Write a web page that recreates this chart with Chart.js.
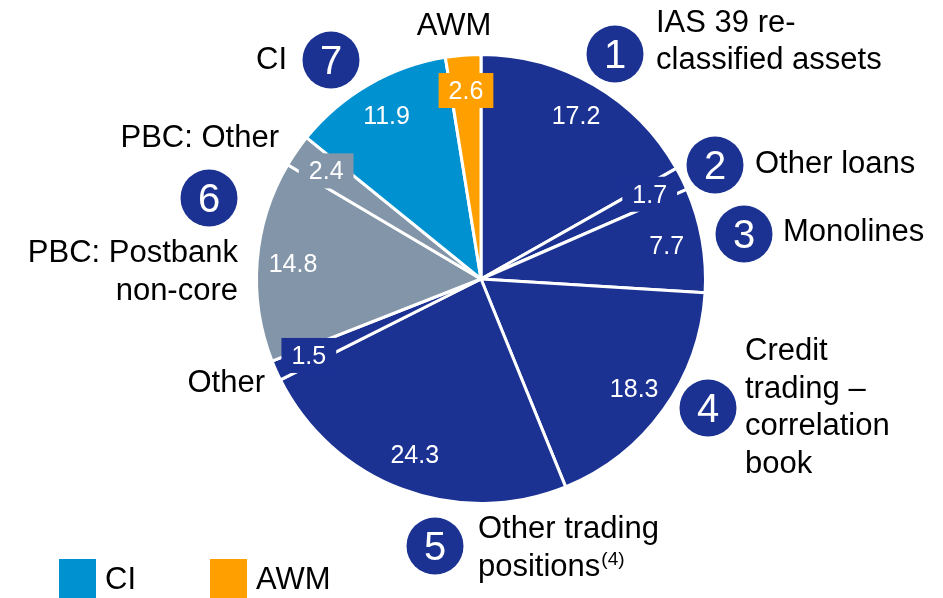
<!DOCTYPE html>
<html>
<head>
<meta charset="utf-8">
<script src="https://cdn.jsdelivr.net/npm/chart.js@4"></script>
<style>
  html, body { margin: 0; padding: 0; background: #fff; }
  canvas { display: block; }
</style>
</head>
<body>
<canvas id="pieChart" width="943" height="598"></canvas>
<script>
// Data
const categories = [
  'IAS 39 re-classified assets', 'Other loans', 'Monolines',
  'Credit trading – correlation book', 'Other trading positions',
  'Other', 'PBC: Postbank non-core', 'PBC: Other', 'CI', 'AWM'
];
const values = [17.2, 1.7, 7.7, 18.3, 24.3, 1.5, 14.8, 2.4, 11.9, 2.6];
const valueLabels = ['17.2', '1.7', '7.7', '18.3', '24.3', '1.5', '14.8', '2.4', '11.9', '2.6'];
const legendLabels = ['CI', 'AWM'];

const NAVY = '#1b3293';
const BLUE = '#0091d0';
const ORANGE = '#ffa000';
const GREY = '#8396a9';
const sliceColors = [NAVY, NAVY, NAVY, NAVY, NAVY, NAVY, GREY, GREY, BLUE, ORANGE];
const FONT = '"Liberation Sans", Arial, sans-serif';

// Callout layout (numbered circles + text), x/y in px
const circles = [
  { n: '1', x: 615, y: 54 },
  { n: '2', x: 715, y: 165 },
  { n: '3', x: 744, y: 234 },
  { n: '4', x: 708, y: 408 },
  { n: '5', x: 435, y: 546 },
  { n: '6', x: 209, y: 198 },
  { n: '7', x: 331, y: 60 }
];
const texts = [
  { t: 'IAS 39 re-', x: 656, y: 32, a: 'left' },
  { t: 'classified assets', x: 656, y: 69, a: 'left' },
  { t: 'Other loans', x: 755, y: 173, a: 'left' },
  { t: 'Monolines', x: 783, y: 241, a: 'left' },
  { t: 'Credit', x: 745, y: 360, a: 'left' },
  { t: 'trading –', x: 745, y: 398, a: 'left' },
  { t: 'correlation', x: 745, y: 435, a: 'left' },
  { t: 'book', x: 745, y: 473, a: 'left' },
  { t: 'Other trading', x: 478, y: 538, a: 'left' },
  { t: 'positions', x: 478, y: 576, a: 'left', sup: '(4)' },
  { t: 'PBC: Other', x: 279, y: 147, a: 'right' },
  { t: 'PBC: Postbank', x: 238, y: 262, a: 'right' },
  { t: 'non-core', x: 238, y: 300, a: 'right' },
  { t: 'Other', x: 265, y: 392, a: 'right' },
  { t: 'CI', x: 287, y: 69, a: 'right' },
  { t: 'AWM', x: 454, y: 35, a: 'center' }
];

// Value labels on slices; small slices get a box in the slice colour
const valueLabelPlugin = {
  id: 'valueLabels',
  afterDatasetsDraw(chart) {
    const ctx = chart.ctx;
    const meta = chart.getDatasetMeta(0);
    ctx.save();
    ctx.font = '25px ' + FONT;
    ctx.textAlign = 'center';
    ctx.textBaseline = 'middle';
    meta.data.forEach((arc, i) => {
      const mid = (arc.startAngle + arc.endAngle) / 2;
      const r = arc.outerRadius * 0.84;
      const x = arc.x + Math.cos(mid) * r;
      const y = arc.y + Math.sin(mid) * r;
      if (values[i] < 3) {
        const w = ctx.measureText(valueLabels[i]).width + 20;
        ctx.fillStyle = sliceColors[i];
        ctx.fillRect(x - w / 2, y - 18, w, 35);
      }
      ctx.fillStyle = '#fff';
      ctx.fillText(valueLabels[i], x, y + 1);
    });
    ctx.restore();
  }
};

// Callouts and legend
const calloutPlugin = {
  id: 'callouts',
  afterDraw(chart) {
    const ctx = chart.ctx;
    ctx.save();
    circles.forEach(c => {
      ctx.beginPath();
      ctx.arc(c.x, c.y, 28.5, 0, Math.PI * 2);
      ctx.fillStyle = NAVY;
      ctx.fill();
      ctx.fillStyle = '#fff';
      ctx.font = '40px ' + FONT;
      ctx.textAlign = 'center';
      ctx.textBaseline = 'alphabetic';
      ctx.fillText(c.n, c.x, c.y + 14);
    });
    ctx.fillStyle = '#000';
    ctx.textBaseline = 'alphabetic';
    texts.forEach(t => {
      ctx.font = '31px ' + FONT;
      ctx.textAlign = t.a;
      ctx.fillText(t.t, t.x, t.y);
      if (t.sup) {
        const w = ctx.measureText(t.t).width;
        ctx.font = '19px ' + FONT;
        ctx.textAlign = 'left';
        ctx.fillText(t.sup, t.x + w + 1, t.y - 11);
      }
    });
    // Legend
    const legendColors = [BLUE, ORANGE];
    const legendX = [59, 210];
    legendLabels.forEach((l, i) => {
      ctx.fillStyle = legendColors[i];
      ctx.fillRect(legendX[i], 559, 37, 39);
      ctx.fillStyle = '#000';
      ctx.font = '31px ' + FONT;
      ctx.textAlign = 'left';
      ctx.fillText(l, legendX[i] + 46, 589);
    });
    ctx.restore();
  }
};

new Chart(document.getElementById('pieChart'), {
  type: 'pie',
  data: {
    labels: categories,
    datasets: [{
      data: values,
      backgroundColor: sliceColors,
      borderColor: '#fff',
      borderWidth: 3
    }]
  },
  options: {
    responsive: false,
    animation: false,
    layout: { padding: { left: 255, right: 236, top: 53, bottom: 93 } },
    plugins: {
      legend: { display: false },
      tooltip: { enabled: false }
    }
  },
  plugins: [valueLabelPlugin, calloutPlugin]
});
</script>
</body>
</html>
